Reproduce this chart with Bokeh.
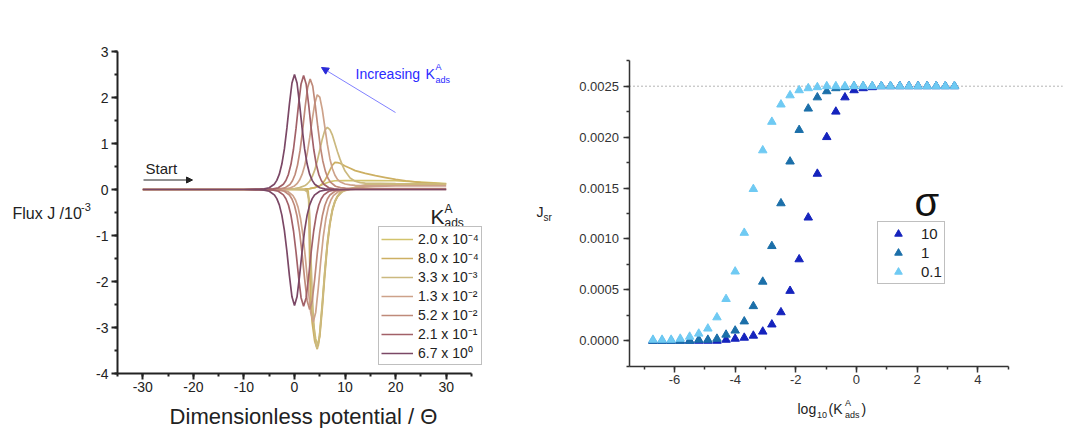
from bokeh.plotting import figure
from bokeh.layouts import row
from bokeh.models import (Legend, LegendItem, Label, Arrow, NormalHead,
                          SingleIntervalTicker, PrintfTickFormatter, Range1d)
from bokeh.embed import file_html
from bokeh.resources import INLINE

FONT = "Liberation Sans"

# ---------------- Left chart data: flux transients (forward / reverse sweeps) -------------
kads_labels = ["2.0 x 10\u207b\u2074", "8.0 x 10\u207b\u2074", "3.3 x 10\u207b\u00b3",
               "1.3 x 10\u207b\u00b2", "5.2 x 10\u207b\u00b2", "2.1 x 10\u207b\u00b9",
               "6.7 x 10\u2070"]
curve_colors = ["#d2c36c", "#cdb063", "#cbb97f", "#cda28a", "#bf8a7a", "#a26168", "#7b4866"]

c1_fx = [-30, -10, 0, 2, 3, 4, 5, 6, 7, 8, 10, 15, 20, 25, 30]
c1_fy = [0, 0, 0, 0.01, 0.02, 0.04, 0.08, 0.13, 0.17, 0.19, 0.195, 0.195, 0.19, 0.16, 0.13]
c1_rx = [-30, -10, 2, 2.7, 2.9, 3.0, 3.1, 3.3, 3.7, 4.2, 4.7, 5.0, 5.5, 6.0, 6.5, 7.0, 7.5,
         8.0, 8.5, 9.0, 9.5, 10, 11, 12, 14, 20, 30]
c1_ry = [0, 0, 0, -0.03, -0.3, -1.0, -1.8, -2.5, -2.9, -3.25, -3.40, -3.1, -2.45, -1.75, -1.15,
         -0.72, -0.42, -0.25, -0.14, -0.07, -0.03, 0, 0.02, 0.04, 0.07, 0.11, 0.13]

c2_fx = [-30, -10, 0, 2, 3, 4, 5, 5.5, 6, 6.5, 7, 7.5, 8, 8.5, 9, 10, 11, 12, 14, 16, 18, 20,
         22, 25, 30]
c2_fy = [0, 0, 0.005, 0.01, 0.02, 0.04, 0.08, 0.13, 0.2, 0.3, 0.42, 0.53, 0.59, 0.585, 0.57,
         0.51, 0.46, 0.41, 0.35, 0.30, 0.26, 0.22, 0.19, 0.15, 0.12]
c2_rx = [-30, -10, 2, 2.6, 2.8, 2.9, 3.0, 3.2, 3.5, 4.0, 4.5, 5.0, 5.5, 6.0, 6.5, 7.0, 7.5,
         8.0, 8.5, 9.0, 9.5, 10, 11, 12, 14, 20, 30]
c2_ry = [0, 0, 0, -0.03, -0.2, -0.8, -1.6, -2.5, -2.9, -3.3, -3.47, -3.2, -2.58, -1.86, -1.23,
         -0.77, -0.46, -0.27, -0.16, -0.08, -0.04, -0.01, 0.01, 0.03, 0.06, 0.1, 0.12]

c3_fx = [-30, -10, 0, 1, 2, 2.5, 3, 3.5, 4, 4.5, 5, 5.5, 6, 6.5, 7, 7.5, 8, 8.5, 9, 9.5, 10,
         11, 12, 13, 14, 20, 30]
c3_fy = [0, 0, 0.02, 0.04, 0.08, 0.12, 0.18, 0.28, 0.42, 0.62, 0.86, 1.1, 1.29, 1.35, 1.3,
         1.18, 1.0, 0.82, 0.66, 0.52, 0.40, 0.25, 0.18, 0.15, 0.14, 0.13, 0.12]
c3_rx = [-30, -10, 0, 2, 2.5, 2.8, 3.0, 3.2, 3.45, 3.7, 3.95, 4.2, 4.45, 4.95, 5.45, 5.95,
         6.45, 6.95, 7.45, 7.95, 8.45, 9.45, 10.45, 12, 14, 20, 30]
c3_ry = [0, 0, 0, -0.01, -0.05, -0.2, -0.6, -1.3, -2.1, -2.7, -3.1, -3.35, -3.45, -3.19, -2.57,
         -1.85, -1.22, -0.76, -0.46, -0.27, -0.16, -0.05, -0.01, 0.05, 0.1, 0.12, 0.12]

c4_fx = [-30, -10, -2, -1, 0, 0.5, 1, 1.5, 2, 2.5, 3, 3.5, 4, 4.5, 5, 5.5, 6, 6.5, 7, 7.5, 8,
         8.5, 9, 10, 11, 12, 14, 20, 30]
c4_fy = [0, 0, 0.011, 0.029, 0.078, 0.127, 0.205, 0.327, 0.509, 0.776, 1.120, 1.511, 1.865,
         2.058, 2.008, 1.737, 1.354, 0.979, 0.67, 0.45, 0.31, 0.22, 0.17, 0.12, 0.10, 0.09,
         0.085, 0.08, 0.08]
c4_rx = [-30, -10, -3.3, -2.3, -1.3, -0.3, 0.2, 0.7, 1.2, 1.7, 2.2, 2.7, 3.2, 3.7, 4.2, 4.7,
         5.2, 5.7, 6.2, 6.7, 7.2, 7.7, 8.7, 9.7, 10.7, 12, 14, 20, 30]
c4_ry = [0, 0, -0.006, -0.014, -0.043, -0.132, -0.228, -0.383, -0.636, -1.017, -1.541, -2.146,
         -2.667, -2.88, -2.667, -2.146, -1.541, -1.017, -0.636, -0.383, -0.228, -0.132, -0.043,
         -0.014, 0.0, 0.03, 0.06, 0.08, 0.08]

c5_fx = [-30, -10, -3.9, -2.9, -1.9, -0.9, -0.4, 0.1, 0.6, 1.1, 1.6, 2.1, 2.6, 3.1, 3.6, 4.1,
         4.6, 5.1, 5.6, 6.1, 6.6, 7.1, 8.1, 9.1, 10.1, 12, 20, 30]
c5_fy = [0, 0, 0.005, 0.012, 0.036, 0.11, 0.19, 0.32, 0.53, 0.85, 1.28, 1.79, 2.22, 2.40, 2.25,
         1.84, 1.37, 0.94, 0.62, 0.40, 0.25, 0.16, 0.07, 0.04, 0.03, 0.02, 0.02, 0.02]
c5_rx = [-30, -10, -4, -3, -2, -1, -0.5, 0, 0.5, 1, 1.5, 2, 2.5, 3, 3.5, 4, 4.5, 5, 5.5, 6,
         6.5, 7, 8, 9, 10, 12, 20, 30]
c5_ry = [0, 0, -0.005, -0.013, -0.039, -0.12, -0.206, -0.347, -0.577, -0.921, -1.396, -1.944,
         -2.417, -2.61, -2.417, -1.944, -1.396, -0.921, -0.577, -0.347, -0.206, -0.12, -0.039,
         -0.013, -0.005, 0.01, 0.02, 0.02]

c6_fx = [-30, -10, -5.2, -4.2, -3.2, -2.2, -1.7, -1.2, -0.7, -0.2, 0.3, 0.8, 1.3, 1.8, 2.3,
         2.8, 3.3, 3.8, 4.3, 4.8, 5.3, 5.8, 6.8, 7.8, 8.8, 12, 30]
c6_fy = [0, 0, 0.005, 0.012, 0.037, 0.114, 0.196, 0.330, 0.548, 0.875, 1.327, 1.848, 2.296,
         2.48, 2.296, 1.848, 1.327, 0.875, 0.548, 0.330, 0.196, 0.114, 0.037, 0.012, 0.005, 0, 0]
c6_rx = [-30, -10, -5.2, -4.2, -3.2, -2.2, -1.7, -1.2, -0.7, -0.2, 0.3, 0.8, 1.3, 1.8, 2.3,
         2.8, 3.3, 3.8, 4.3, 4.8, 5.3, 5.8, 6.8, 7.8, 8.8, 12, 30]
c6_ry = [0, 0, -0.005, -0.013, -0.038, -0.117, -0.201, -0.338, -0.561, -0.897, -1.359, -1.892,
         -2.352, -2.54, -2.352, -1.892, -1.359, -0.897, -0.561, -0.338, -0.201, -0.117, -0.038,
         -0.013, -0.005, 0, 0]

c7_fx = [-30, -10, -7, -6, -5, -4, -3.5, -3, -2.5, -2, -1.5, -1, -0.5, 0, 0.5, 1, 1.5, 2, 2.5,
         3, 3.5, 4, 5, 6, 7, 10, 30]
c7_fy = [0, 0, 0.005, 0.013, 0.038, 0.115, 0.198, 0.333, 0.553, 0.883, 1.338, 1.863, 2.315,
         2.50, 2.315, 1.863, 1.338, 0.883, 0.553, 0.333, 0.198, 0.115, 0.038, 0.013, 0.005, 0, 0]
c7_rx = [-30, -10, -7, -6, -5, -4, -3.5, -3, -2.5, -2, -1.5, -1, -0.5, 0, 0.5, 1, 1.5, 2, 2.5,
         3, 3.5, 4, 5, 6, 7, 10, 30]
c7_ry = [0, 0, -0.005, -0.013, -0.038, -0.116, -0.199, -0.335, -0.557, -0.890, -1.348, -1.877,
         -2.334, -2.52, -2.334, -1.877, -1.348, -0.890, -0.557, -0.335, -0.199, -0.116, -0.038,
         -0.013, -0.005, 0, 0]

# ---------------- Right chart data: J_sr vs log10(K_ads) -------------
log_k = [-6.71, -6.41, -6.11, -5.81, -5.50, -5.20, -4.90, -4.60, -4.30, -4.00, -3.70, -3.40,
         -3.09, -2.79, -2.49, -2.19, -1.89, -1.59, -1.29, -0.98, -0.68, -0.38, -0.08, 0.22,
         0.52, 0.82, 1.12, 1.43, 1.73, 2.03, 2.33, 2.63, 2.93, 3.23]
jsr_sigma_10 = [0, 0, 0, 0, 0, 0, 0, 0, 0.00001, 0.00002, 0.00003, 0.00005, 0.00009, 0.00016,
                0.00028, 0.00049, 0.0008, 0.00121, 0.00164, 0.002, 0.00225, 0.00239, 0.00246,
                0.00248, 0.00249, 0.0025, 0.0025, 0.0025, 0.0025, 0.0025, 0.0025, 0.0025,
                0.0025, 0.0025]
jsr_sigma_1 = [0, 0, 0, 0, 0, 0.00001, 0.00001, 0.00002, 0.00006, 0.0001, 0.00019, 0.00034,
               0.00058, 0.00093, 0.00135, 0.00176, 0.00207, 0.00228, 0.00239, 0.00245, 0.00248,
               0.00249, 0.0025, 0.0025, 0.0025, 0.0025, 0.0025, 0.0025, 0.0025, 0.0025, 0.0025,
               0.0025, 0.0025, 0.0025]
jsr_sigma_01 = [0.00001, 0.00001, 0.00001, 0.00002, 0.00004, 0.00007, 0.00012, 0.00023,
                0.00041, 0.00068, 0.00106, 0.00149, 0.00187, 0.00215, 0.00232, 0.00241,
                0.00246, 0.00248, 0.00249, 0.0025, 0.0025, 0.0025, 0.0025, 0.0025, 0.0025,
                0.0025, 0.0025, 0.0025, 0.0025, 0.0025, 0.0025, 0.0025, 0.0025, 0.0025]
sigma_labels = ["10", "1", "0.1"]
sigma_colors = ["#1523bd", "#1b6fa9", "#6fcaf3"]
jsr_limit = 0.0025
limit_line_end = 6.8

# ---------------- geometry (pixels of the 1071x428 picture) -------------
W1, W2, H = 520, 550, 428
SX1, SY1 = 354 / 70, 46.0
LX0 = -35 - 117 / SX1
LY_TOP = 3 + 51 / SY1
SX2, SY2 = 30.33, 254.6 / 0.0025
RX0 = -6 - (674 - W1) / SX2
RY_TOP = 340.3 / SY2
BASE_SHIFT = 0.3   # Bokeh places an alphabetic baseline about 0.3 em low


def lx(px):
    return LX0 + px / SX1


def ly(py):
    return LY_TOP - py / SY1


def rx(px):
    return RX0 + (px - W1) / SX2


def ry(py):
    return RY_TOP - py / SY2


def style_axes(p, width, color, size):
    for ax in (p.xaxis[0], p.yaxis[0]):
        ax.axis_line_width = width
        ax.axis_line_color = color
        ax.major_tick_in = 0
        ax.major_tick_out = 6
        ax.minor_tick_in = 0
        ax.minor_tick_out = 3
        ax.major_tick_line_color = color
        ax.minor_tick_line_color = color
        ax.major_tick_line_width = width
        ax.minor_tick_line_width = width
        ax.major_label_text_font = FONT
        ax.major_label_text_font_size = size
        ax.major_label_text_color = color
    p.xgrid.visible = False
    p.ygrid.visible = False
    p.outline_line_color = None
    p.background_fill_color = "white"
    p.border_fill_color = "white"


def add_label(p, fx, fy, px, py, text, size, color="#222222", align="left"):
    p.add_layout(Label(x=fx(px), y=fy(py - BASE_SHIFT * size), text=text, text_font=FONT,
                       text_font_size=f"{size}px", text_color=color, text_align=align,
                       text_baseline="alphabetic"))


# ================= LEFT FIGURE =================
p1 = figure(width=W1, height=H, x_range=Range1d(lx(0), lx(W1)), y_range=Range1d(ly(H), ly(0)),
            output_backend="svg", toolbar_location=None,
            min_border_left=0, min_border_right=0, min_border_top=0, min_border_bottom=0)
p1.xaxis.ticker = SingleIntervalTicker(interval=10, num_minor_ticks=2)
p1.yaxis.ticker = SingleIntervalTicker(interval=1, num_minor_ticks=2)
p1.xaxis.formatter = PrintfTickFormatter(format="%d")
p1.yaxis.formatter = PrintfTickFormatter(format="%d")
p1.xaxis.fixed_location = -4
p1.yaxis.fixed_location = -35
p1.xaxis.bounds = (-35, 35)
p1.yaxis.bounds = (-4, 3)
style_axes(p1, 2, "#222222", "14px")
p1.xaxis.major_label_standoff = 2
p1.yaxis.major_label_standoff = 3

curves = [(c1_fx, c1_fy, c1_rx, c1_ry), (c2_fx, c2_fy, c2_rx, c2_ry),
          (c3_fx, c3_fy, c3_rx, c3_ry), (c4_fx, c4_fy, c4_rx, c4_ry),
          (c5_fx, c5_fy, c5_rx, c5_ry), (c6_fx, c6_fy, c6_rx, c6_ry),
          (c7_fx, c7_fy, c7_rx, c7_ry)]
items = []
for (fx, fy, rxs, rys), col, lab in zip(curves, curve_colors, kads_labels):
    xs = list(fx) + list(rxs[::-1])
    ys = list(fy) + list(rys[::-1])
    r = p1.line(xs, ys, line_color=col, line_width=1.7)
    items.append(LegendItem(label=lab, renderers=[r]))

leg1 = Legend(items=items, location=(378, H - 365), padding=2, spacing=0, margin=0,
              glyph_width=32, glyph_height=18, label_height=18, label_standoff=5,
              label_text_font=FONT, label_text_font_size="14px", label_text_color="#222222",
              label_text_line_height=1.0,
              border_line_color="#808080", border_line_width=1,
              background_fill_color="white", background_fill_alpha=1)
p1.add_layout(leg1)

add_label(p1, lx, ly, 12, 218, "Flux J /10", 16)
add_label(p1, lx, ly, 80.5, 210, "-3", 11)
add_label(p1, lx, ly, 303, 423, "Dimensionless potential / \u0398", 22, align="center")
add_label(p1, lx, ly, 145, 172, "Start", 15)
p1.add_layout(Arrow(x_start=lx(143), y_start=ly(179.5), x_end=lx(192), y_end=ly(179.5),
                    line_color="#222222", line_width=1,
                    end=NormalHead(size=6, fill_color="#222222", line_color="#222222")))
p1.add_layout(Arrow(x_start=lx(395), y_start=ly(112), x_end=lx(321), y_end=ly(67),
                    line_color="#8080ff", line_width=1,
                    end=NormalHead(size=7, fill_color="#2a2ad8", line_color="#2a2ad8")))
blue = "#2a2aff"
add_label(p1, lx, ly, 355, 78, "Increasing", 14, color=blue)
add_label(p1, lx, ly, 425, 78, "K", 14, color=blue)
add_label(p1, lx, ly, 435, 69, "A", 9, color=blue)
add_label(p1, lx, ly, 435, 82, "ads", 9, color=blue)
add_label(p1, lx, ly, 430, 222, "K", 21)
add_label(p1, lx, ly, 444, 212, "A", 12)
add_label(p1, lx, ly, 444, 226.5, "ads", 12)

# ================= RIGHT FIGURE =================
p2 = figure(width=W2, height=H, x_range=Range1d(rx(W1), rx(W1 + W2)),
            y_range=Range1d(ry(H), ry(0)), output_backend="svg", toolbar_location=None,
            min_border_left=0, min_border_right=0, min_border_top=0, min_border_bottom=0)
p2.xaxis.ticker = SingleIntervalTicker(interval=2, num_minor_ticks=2)
p2.yaxis.ticker = SingleIntervalTicker(interval=0.0005, num_minor_ticks=2)
p2.xaxis.formatter = PrintfTickFormatter(format="%d")
p2.yaxis.formatter = PrintfTickFormatter(format="%.4f")
p2.xaxis.fixed_location = -0.00025
p2.yaxis.fixed_location = -7.5
p2.xaxis.bounds = (-7.5, 5)
p2.yaxis.bounds = (-0.00025, 0.00275)
style_axes(p2, 1.5, "#333333", "13px")
p2.xaxis.major_label_standoff = 3
p2.yaxis.major_label_standoff = 4

p2.segment(x0=[-7.5], y0=[jsr_limit], x1=[limit_line_end], y1=[jsr_limit],
           line_color="#b4b4b4", line_dash="2 2", line_width=1)
items2 = []
for ys, col, lab in zip([jsr_sigma_10, jsr_sigma_1, jsr_sigma_01], sigma_colors, sigma_labels):
    r = p2.scatter(log_k, ys, marker="triangle", size=8.5, fill_color=col, line_color=col)
    items2.append(LegendItem(label=lab, renderers=[r]))

leg2 = Legend(items=items2, location=(877 - W1, H - 283.5), padding=2, spacing=0, margin=0,
              glyph_width=36, glyph_height=19, label_height=19, label_standoff=5,
              label_text_font=FONT, label_text_font_size="15px", label_text_color="#222222",
              border_line_color="#808080", border_line_width=1,
              background_fill_color="white", background_fill_alpha=1)
p2.add_layout(leg2)

add_label(p2, rx, ry, 536, 216, "J", 14)
add_label(p2, rx, ry, 543, 220, "sr", 10)
add_label(p2, rx, ry, 914, 213, "\u03c3", 40, color="#111111")
add_label(p2, rx, ry, 797, 413, "log", 14)
add_label(p2, rx, ry, 816.5, 417, "10", 9)
add_label(p2, rx, ry, 828, 413, "(K", 14)
add_label(p2, rx, ry, 844.5, 405, "A", 9)
add_label(p2, rx, ry, 844.5, 417, "ads", 9)
add_label(p2, rx, ry, 861, 413, ")", 14)

layout = row(p1, p2)
open("out.html", "w").write(file_html(layout, INLINE))
